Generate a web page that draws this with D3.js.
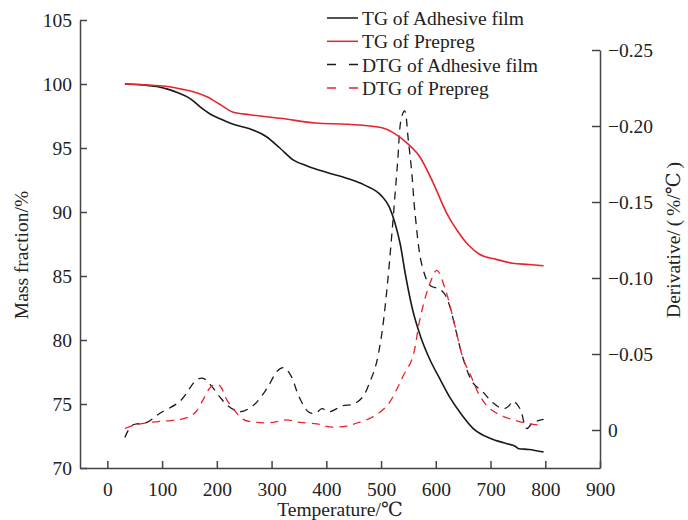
<!DOCTYPE html>
<html>
<head>
<meta charset="utf-8">
<script src="https://cdn.jsdelivr.net/npm/d3@7"></script>
<style>
  body { margin: 0; background: #fff; }
  svg { font-family: "Liberation Serif", "DejaVu Serif", serif; }
</style>
</head>
<body>
<div id="chart"></div>
<script>
// TG curves (left axis, mass fraction %)
const tgFilmT = [32, 60, 90, 110, 130, 150, 170, 190, 210, 230, 260, 290, 315, 340, 365, 400, 440, 470, 500, 515, 525, 535, 545, 558, 572, 590, 607, 626, 645, 668, 700, 730, 745, 752, 770, 797];
const tgFilmV = [100, 99.95, 99.8, 99.6, 99.3, 98.9, 98.2, 97.6, 97.2, 96.85, 96.5, 95.9, 95.0, 94.05, 93.6, 93.1, 92.6, 92.1, 91.3, 90.4, 89.2, 87.5, 85.0, 82.3, 80.3, 78.4, 77.0, 75.5, 74.3, 73.1, 72.3, 71.9, 71.7, 71.5, 71.45, 71.25];

const tgPrepT = [32, 80, 110, 135, 157, 182, 206, 230, 260, 320, 380, 440, 500, 522, 547, 571, 595, 620, 640, 660, 680, 710, 740, 770, 797];
const tgPrepV = [100, 99.9, 99.8, 99.6, 99.4, 99.0, 98.4, 97.8, 97.6, 97.3, 96.95, 96.85, 96.6, 96.2, 95.4, 94.3, 92.3, 89.9, 88.5, 87.4, 86.7, 86.3, 86.0, 85.9, 85.8];

// DTG curves (right axis, %/℃)
const dtgFilmT = [32, 45, 72, 96, 133, 163, 175, 190, 205, 220, 242, 266, 291, 311, 322, 335, 350, 367, 380, 392, 405, 430, 450, 467, 480, 490, 500, 510, 520, 530, 537, 543, 550, 556, 562, 575, 590, 605, 615, 625, 637, 650, 668, 686, 704, 723, 734, 741, 754, 766, 778, 797];
const dtgFilmV = [0.005, -0.003, -0.005, -0.011, -0.019, -0.033, -0.034, -0.029, -0.022, -0.016, -0.012, -0.016, -0.027, -0.039, -0.041, -0.036, -0.022, -0.012, -0.011, -0.014, -0.012, -0.016, -0.017, -0.022, -0.032, -0.042, -0.06, -0.09, -0.13, -0.175, -0.205, -0.21, -0.19, -0.17, -0.143, -0.108, -0.095, -0.093, -0.09, -0.082, -0.065, -0.047, -0.031, -0.025, -0.018, -0.014, -0.016, -0.019, -0.014, -0.001, -0.005, -0.007];

const dtgPrepT = [32, 47, 78, 109, 133, 151, 163, 175, 188, 198, 206, 218, 230, 248, 273, 303, 327, 352, 383, 407, 437, 456, 485, 511, 529, 541, 557, 571, 586, 602, 617, 632, 650, 666, 681, 699, 723, 748, 772, 797];
const dtgPrepV = [-0.001, -0.003, -0.005, -0.006, -0.007, -0.009, -0.0125, -0.020, -0.028, -0.030, -0.029, -0.020, -0.014, -0.007, -0.005, -0.005, -0.0066, -0.005, -0.004, -0.002, -0.0026, -0.0046, -0.0086, -0.016, -0.027, -0.036, -0.047, -0.073, -0.093, -0.105, -0.093, -0.073, -0.047, -0.034, -0.022, -0.014, -0.009, -0.006, -0.004, -0.003];

const xTicks = [0, 100, 200, 300, 400, 500, 600, 700, 800, 900];
const yTicks = [70, 75, 80, 85, 90, 95, 100, 105];
const dTicks = [0, -0.05, -0.10, -0.15, -0.20, -0.25];

const legendNames = ["TG of Adhesive film", "TG of Prepreg", "DTG of Adhesive film", "DTG of Prepreg"];

const width = 688, height = 520;
const red = "#e8242b", black = "#1a1a1a", axisCol = "#444";

const svg = d3.select("#chart").append("svg")
  .attr("width", width)
  .attr("height", height);

// scales
const x = d3.scaleLinear().domain([-50, 900]).range([80, 600]);
const y = d3.scaleLinear().domain([70, 105]).range([468, 20]);
const yd = d3.scaleLinear().domain([0.025, -0.25]).range([468, 50]);

// axes
const xAxis = svg.append("g")
  .attr("transform", "translate(0,468)")
  .call(d3.axisBottom(x).tickValues(xTicks).tickSize(-7).tickPadding(14).tickSizeOuter(0));

const yAxis = svg.append("g")
  .attr("transform", "translate(80,0)")
  .call(d3.axisLeft(y).tickValues(yTicks).tickSize(-7).tickPadding(8).tickSizeOuter(0));

const dAxis = svg.append("g")
  .attr("transform", "translate(600,0)")
  .call(d3.axisRight(yd).tickValues(dTicks).tickSize(-8).tickPadding(8).tickSizeOuter(0)
    .tickFormat(d => d === 0 ? "0" : d3.format(".2f")(d)));

[xAxis, yAxis, dAxis].forEach(g => {
  g.select(".domain").attr("stroke", axisCol).attr("stroke-width", 1.5);
  g.selectAll(".tick line").attr("stroke", axisCol).attr("stroke-width", 1.5);
  g.selectAll(".tick text")
    .attr("fill", "#222")
    .style("font-size", "19.5px")
    .style("font-family", "Liberation Serif");
});

// axis titles
svg.append("text")
  .attr("x", 340).attr("y", 516)
  .attr("text-anchor", "middle")
  .style("font-size", "19.5px").attr("fill", "#222")
  .text("Temperature/℃");

svg.append("text")
  .attr("transform", "translate(28,255) rotate(-90)")
  .attr("text-anchor", "middle")
  .style("font-size", "19.5px").attr("fill", "#222")
  .text("Mass fraction/%");

svg.append("text")
  .attr("transform", "translate(680,240) rotate(-90)")
  .attr("text-anchor", "middle")
  .style("font-size", "19.5px").attr("fill", "#222")
  .text("Derivative/\u2009(\u2009%/℃\u2009)");

// lines
const lineL = d3.line().x(d => x(d[0])).y(d => y(d[1])).curve(d3.curveMonotoneX);
const lineR = d3.line().x(d => x(d[0])).y(d => yd(d[1])).curve(d3.curveCatmullRom.alpha(0.5));

const zip = (a, b) => a.map((t, i) => [t, b[i]]);

svg.append("path").datum(zip(dtgFilmT, dtgFilmV))
  .attr("fill", "none").attr("stroke", black).attr("stroke-width", 1.3)
  .attr("stroke-dasharray", "8,6").attr("d", lineR);

svg.append("path").datum(zip(dtgPrepT, dtgPrepV))
  .attr("fill", "none").attr("stroke", red).attr("stroke-width", 1.3)
  .attr("stroke-dasharray", "8,6").attr("d", lineR);

svg.append("path").datum(zip(tgFilmT, tgFilmV))
  .attr("fill", "none").attr("stroke", black).attr("stroke-width", 1.6)
  .attr("d", lineL);

svg.append("path").datum(zip(tgPrepT, tgPrepV))
  .attr("fill", "none").attr("stroke", red).attr("stroke-width", 1.6)
  .attr("d", lineL);

// legend
const legendCols = [black, red, black, red];
const legendDash = [null, null, "9,13", "9,13"];
const legend = svg.append("g").attr("transform", "translate(327,18)");
legendNames.forEach((name, i) => {
  const row = legend.append("g").attr("transform", `translate(0,${i * 23.3})`);
  row.append("line")
    .attr("x1", 0).attr("x2", 31).attr("y1", 0).attr("y2", 0)
    .attr("stroke", legendCols[i]).attr("stroke-width", 1.5)
    .attr("stroke-dasharray", legendDash[i]);
  row.append("text")
    .attr("x", 35).attr("y", 7)
    .style("font-size", "19.5px").attr("fill", "#222")
    .text(name);
});
</script>
</body>
</html>
